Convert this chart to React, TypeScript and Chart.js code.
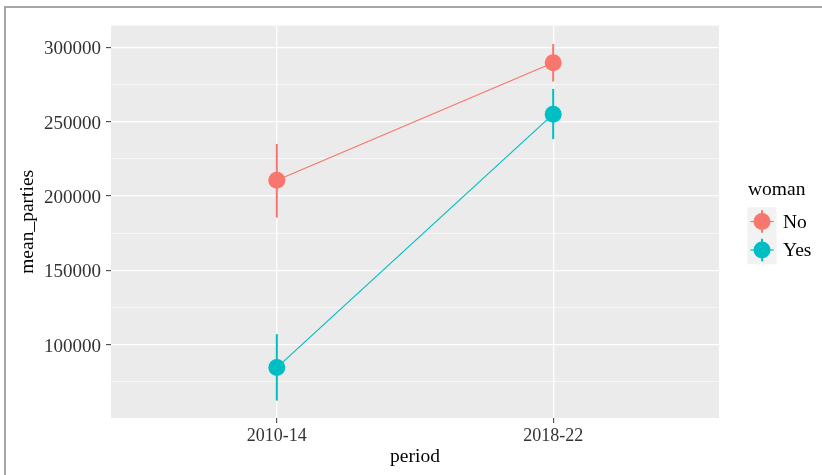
import React, { useEffect, useRef } from "react";
import { Chart, registerables } from "chart.js";

Chart.register(...registerables);

// Periods on the x axis and the two groups of the "woman" legend
const periods = ["2010-14", "2018-22"];
const groups = ["No", "Yes"];
const groupColors = ["#F8766D", "#00BFC4"];

// Mean number of parties with lower / upper interval ends
const meanNo = [210500, 289600];
const lowNo = [185400, 276900];
const highNo = [235000, 302200];

const meanYes = [84500, 255000];
const lowYes = [62300, 238200];
const highYes = [107000, 272000];

// Y gridlines (every 25000, labelled every 50000) and axis limits
const yGridValues = [75000, 100000, 125000, 150000, 175000, 200000, 225000, 250000, 275000, 300000];
const yMin = 50600;
const yMax = 314500;

const means = [meanNo, meanYes];
const lows = [lowNo, lowYes];
const highs = [highNo, highYes];

const FONT = '"Liberation Serif", "Times New Roman", serif';
const TICK_TEXT = "#333333";

const panelBackground = {
  id: "panelBackground",
  beforeDraw(chart: any) {
    const { ctx, chartArea: a } = chart;
    ctx.save();
    ctx.fillStyle = "#EBEBEB";
    ctx.fillRect(a.left, a.top, a.right - a.left, a.bottom - a.top);
    ctx.restore();
  },
};

const rangeBars = {
  id: "rangeBars",
  beforeDatasetsDraw(chart: any) {
    const { ctx, scales } = chart;
    const xs = scales.x;
    const ys = scales.y;
    ctx.save();
    ctx.lineWidth = 2;
    groups.forEach((_, i) => {
      ctx.strokeStyle = groupColors[i];
      periods.forEach((__, j) => {
        const px = xs.getPixelForValue(j + 1);
        ctx.beginPath();
        ctx.moveTo(px, ys.getPixelForValue(lows[i][j]));
        ctx.lineTo(px, ys.getPixelForValue(highs[i][j]));
        ctx.stroke();
      });
    });
    ctx.restore();
  },
};

const sideLegend = {
  id: "sideLegend",
  afterDraw(chart: any) {
    const { ctx } = chart;
    ctx.save();
    ctx.font = `19.5px ${FONT}`;
    ctx.fillStyle = "#000000";
    ctx.textAlign = "left";
    ctx.textBaseline = "alphabetic";
    ctx.fillText("woman", 748, 195);

    const keyLeft = 747.3;
    const keyWidth = 29.4;
    const keyHeight = 28.5;
    const keyTop = 207.3;
    groups.forEach((g, i) => {
      const top = keyTop + i * keyHeight;
      const cx = keyLeft + keyWidth / 2;
      const cy = top + keyHeight / 2;
      ctx.fillStyle = "#F2F2F2";
      ctx.fillRect(keyLeft, top, keyWidth, keyHeight);

      ctx.strokeStyle = groupColors[i];
      ctx.lineWidth = 1.2;
      ctx.beginPath();
      ctx.moveTo(keyLeft + 3, cy);
      ctx.lineTo(keyLeft + keyWidth - 3, cy);
      ctx.stroke();

      ctx.lineWidth = 2;
      ctx.beginPath();
      ctx.moveTo(cx, top + 3);
      ctx.lineTo(cx, top + keyHeight - 3);
      ctx.stroke();

      ctx.fillStyle = groupColors[i];
      ctx.beginPath();
      ctx.arc(cx, cy, 8.5, 0, Math.PI * 2);
      ctx.fill();

      ctx.fillStyle = "#000000";
      ctx.font = `19.5px ${FONT}`;
      ctx.textBaseline = "middle";
      ctx.fillText(g, 783, cy + 1);
    });
    ctx.restore();
  },
};

export default function App() {
  const canvasRef = useRef<HTMLCanvasElement>(null);

  useEffect(() => {
    const canvas = canvasRef.current;
    if (!canvas) return;
    const chart = new Chart(canvas, {
      type: "line",
      data: {
        datasets: groups.map((g, i) => ({
          label: g,
          data: periods.map((_, j) => ({ x: j + 1, y: means[i][j] })),
          borderColor: groupColors[i],
          backgroundColor: groupColors[i],
          borderWidth: 1.2,
          pointRadius: 8.5,
          pointBorderWidth: 0,
          pointBackgroundColor: groupColors[i],
          tension: 0,
          fill: false,
        })),
      },
      options: {
        responsive: false,
        animation: false,
        devicePixelRatio: 1,
        layout: { padding: { top: 25.7, right: 103, left: 0, bottom: 0 } },
        plugins: {
          legend: { display: false },
          tooltip: { enabled: false },
        },
        scales: {
          x: {
            type: "linear",
            min: 0.4,
            max: 2.6,
            afterBuildTicks: (s: any) => {
              s.ticks = periods.map((_, i) => ({ value: i + 1 }));
            },
            afterFit: (s: any) => {
              s.height = 57;
            },
            ticks: {
              callback: (v: any) => periods[Number(v) - 1] ?? "",
              font: { family: FONT, size: 18 },
              color: TICK_TEXT,
              padding: 2,
              maxRotation: 0,
              autoSkip: false,
            },
            grid: {
              color: "#FFFFFF",
              lineWidth: 1.3,
              tickLength: 5,
              tickColor: "#333333",
              tickWidth: 1,
            },
            border: { display: false },
            title: {
              display: true,
              text: "period",
              font: { family: FONT, size: 19.5 },
              color: "#000000",
              padding: { top: 0, bottom: 6.6 },
            },
          },
          y: {
            type: "linear",
            min: yMin,
            max: yMax,
            afterBuildTicks: (s: any) => {
              s.ticks = yGridValues.map((v) => ({ value: v }));
            },
            afterFit: (s: any) => {
              s.width = 111;
            },
            ticks: {
              callback: (v: any) => (Number(v) % 50000 === 0 ? String(v) : ""),
              font: { family: FONT, size: 19 },
              color: TICK_TEXT,
              padding: 5,
              labelOffset: 2,
              autoSkip: false,
            },
            grid: {
              color: "#FFFFFF",
              lineWidth: (c: any) => (c.tick && c.tick.value % 50000 === 0 ? 1.3 : 0.6),
              tickLength: 5,
              tickColor: (c: any) =>
                c.tick && c.tick.value % 50000 === 0 ? "#333333" : "rgba(0,0,0,0)",
              tickWidth: 1,
            },
            border: { display: false },
            title: {
              display: true,
              text: "mean_parties",
              font: { family: FONT, size: 19.5 },
              color: "#000000",
              padding: { top: 15.7, bottom: 0 },
            },
          },
        },
      },
      plugins: [panelBackground, rangeBars, sideLegend],
    } as any);
    return () => chart.destroy();
  }, []);

  return (
    <div
      style={{
        position: "fixed",
        left: 0,
        top: 0,
        width: 822,
        height: 475,
        background: "#FFFFFF",
        overflow: "hidden",
      }}
    >
      <div
        style={{
          position: "absolute",
          left: 4,
          top: 6,
          width: 900,
          height: 600,
          borderTop: "2px solid #A6A6A6",
          borderLeft: "2px solid #A6A6A6",
        }}
      />
      <canvas
        ref={canvasRef}
        width={822}
        height={475}
        style={{ position: "absolute", left: 0, top: 0 }}
      />
    </div>
  );
}
